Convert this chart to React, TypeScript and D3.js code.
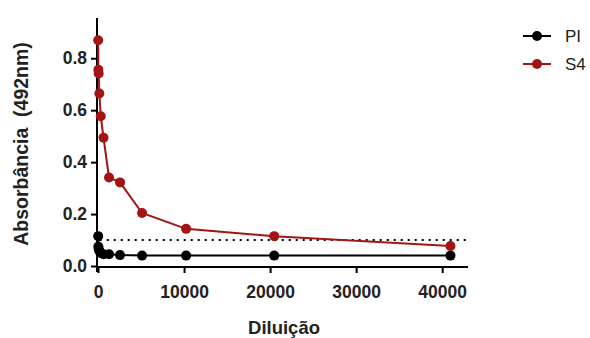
import React, { useEffect, useRef } from 'react';
import * as d3 from 'd3';

const diluicao = [20, 40, 80, 160, 320, 640, 1280, 2560, 5120, 10240, 20480, 40960];
const piValues = [0.115, 0.075, 0.065, 0.058, 0.05, 0.045, 0.045, 0.042, 0.04, 0.04, 0.04, 0.04];
const s4Values = [0.869, 0.756, 0.741, 0.664, 0.577, 0.494, 0.341, 0.322, 0.204, 0.143, 0.115, 0.077];
const xTicks = [0, 10000, 20000, 30000, 40000];
const yTicks = [0, 0.2, 0.4, 0.6, 0.8];
const cutoff = 0.1;

const series = [
  { name: 'PI', values: piValues, color: '#000000' },
  { name: 'S4', values: s4Values, color: '#a31515' },
];

const App = () => {
  const ref = useRef<SVGSVGElement>(null);

  useEffect(() => {
    const svg = d3.select(ref.current);
    svg.selectAll('*').remove();

    const x = d3.scaleLinear().domain([0, 43000]).range([98, 468]);
    const y = d3.scaleLinear().domain([0, 0.955]).range([266, 18]);
    const font = '"Liberation Sans", Arial, sans-serif';

    // axes
    const xAxis = svg.append('g').attr('transform', 'translate(0,267)')
      .call(d3.axisBottom(x).tickValues(xTicks).tickFormat(d3.format('d')).tickSizeOuter(0).tickSize(6));
    const yAxis = svg.append('g').attr('transform', 'translate(97,0)')
      .call(d3.axisLeft(y).tickValues(yTicks).tickFormat(d3.format('.1f')).tickSizeOuter(0).tickSize(6));
    [xAxis, yAxis].forEach(a => {
      a.select('.domain').attr('stroke', '#000').attr('stroke-width', 2);
      a.selectAll('.tick line').attr('stroke', '#000').attr('stroke-width', 2);
      a.selectAll('.tick text').attr('fill', '#222').style('font-family', font)
        .style('font-size', '17.5px').style('font-weight', 'bold');
    });
    xAxis.selectAll('.tick text').attr('y', 31).attr('dy', 0);
    yAxis.selectAll('.tick text').attr('x', -10);
    // y axis runs down past the x axis, x axis starts at the y axis
    yAxis.select('.domain').attr('d', `M0,${y(0.955)}V272`);
    xAxis.select('.domain').attr('d', `M96,0H468`);

    // dotted cutoff line
    svg.append('line')
      .attr('x1', x(200)).attr('x2', x(43000))
      .attr('y1', y(cutoff)).attr('y2', y(cutoff))
      .attr('stroke', '#000').attr('stroke-width', 2).attr('stroke-dasharray', '2,5');

    const line = d3.line<number>().x((_, i) => x(diluicao[i])).y(d => y(d));

    series.forEach(s => {
      svg.append('path').datum(s.values).attr('d', line)
        .attr('fill', 'none').attr('stroke', s.color).attr('stroke-width', 2);
      svg.append('g').selectAll('circle').data(s.values).enter().append('circle')
        .attr('cx', (_, i) => x(diluicao[i])).attr('cy', d => y(d)).attr('r', 5)
        .attr('fill', s.color);
    });

    // legend
    series.forEach((s, i) => {
      const ly = 36 + i * 28;
      const g = svg.append('g');
      g.append('line').attr('x1', 523).attr('x2', 551).attr('y1', ly).attr('y2', ly)
        .attr('stroke', s.color).attr('stroke-width', 2);
      g.append('circle').attr('cx', 537).attr('cy', ly).attr('r', 5).attr('fill', s.color);
      g.append('text').attr('x', 565).attr('y', ly).attr('dy', '0.36em')
        .style('font-family', font).style('font-size', '17px').attr('fill', '#222').text(s.name);
    });

    // titles
    svg.append('text').attr('x', 284).attr('y', 334).attr('text-anchor', 'middle')
      .style('font-family', font).style('font-size', '18.5px').style('font-weight', 'bold')
      .attr('fill', '#222').text('Diluição');
    svg.append('text').attr('transform', 'translate(28,144) rotate(-90)')
      .attr('text-anchor', 'middle').style('font-family', font).style('font-size', '19.5px')
      .style('font-weight', 'bold').attr('fill', '#222').style('white-space', 'pre')
      .text('Absorbância  (492nm)');
  }, []);

  return (
    <svg ref={ref} width={590} height={338}
      style={{ position: 'absolute', left: 0, top: 0, background: '#fff' }} />
  );
};

export default App;
